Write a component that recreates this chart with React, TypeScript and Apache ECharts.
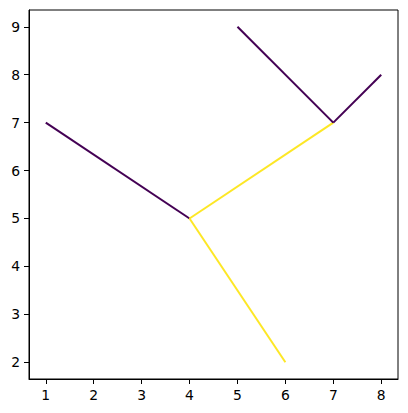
import React, { useEffect, useRef } from "react";
import * as echarts from "echarts";

// Segments: start and end points
const segmentStarts: number[][] = [[1, 7], [4, 5], [4, 5], [7, 7], [7, 7]];
const segmentEnds: number[][] = [[4, 5], [6, 2], [7, 7], [5, 9], [8, 8]];
const segmentGroups: number[] = [0, 1, 1, 0, 0];
const groupColors: string[] = ["#440154", "#fde725"];
const xTicks: number[] = [1, 2, 3, 4, 5, 6, 7, 8];
const yTicks: number[] = [2, 3, 4, 5, 6, 7, 8, 9];

export default function App() {
  const ref = useRef<HTMLDivElement>(null);
  useEffect(() => {
    if (!ref.current) return;
    const chart = echarts.init(ref.current, undefined, { renderer: "svg" });
    const font = "DejaVu Sans";
    const axisCommon = {
      type: "value" as const,
      axisLine: { show: true, onZero: false, lineStyle: { color: "#000", width: 1 } },
      splitLine: { show: false },
    };
    chart.setOption({
      animation: false,
      grid: {
        left: 29,
        top: 10,
        right: 10,
        bottom: 34,
        show: true,
        borderColor: "#000",
        borderWidth: 1,
        backgroundColor: "transparent",
      },
      xAxis: {
        ...axisCommon,
        min: 0.65,
        max: 8.35,
        axisTick: { show: true, length: 5, customValues: xTicks, lineStyle: { color: "#000" } },
        axisLabel: { customValues: xTicks, margin: 9, fontSize: 13.9, fontFamily: font, color: "#000" },
      },
      yAxis: {
        ...axisCommon,
        min: 1.65,
        max: 9.35,
        axisTick: { show: true, length: 5, customValues: yTicks, lineStyle: { color: "#000" } },
        axisLabel: { customValues: yTicks, margin: 9, fontSize: 13.9, fontFamily: font, color: "#000" },
      },
      series: segmentStarts.map((s, i) => ({
        type: "line",
        data: [s, segmentEnds[i]],
        showSymbol: false,
        symbol: "none",
        lineStyle: { color: groupColors[segmentGroups[i]], width: 2 },
        itemStyle: { color: groupColors[segmentGroups[i]] },
      })),
    });
    return () => chart.dispose();
  }, []);
  return <div ref={ref} style={{ width: 408, height: 413, position: "absolute", left: 0, top: 0 }} />;
}
